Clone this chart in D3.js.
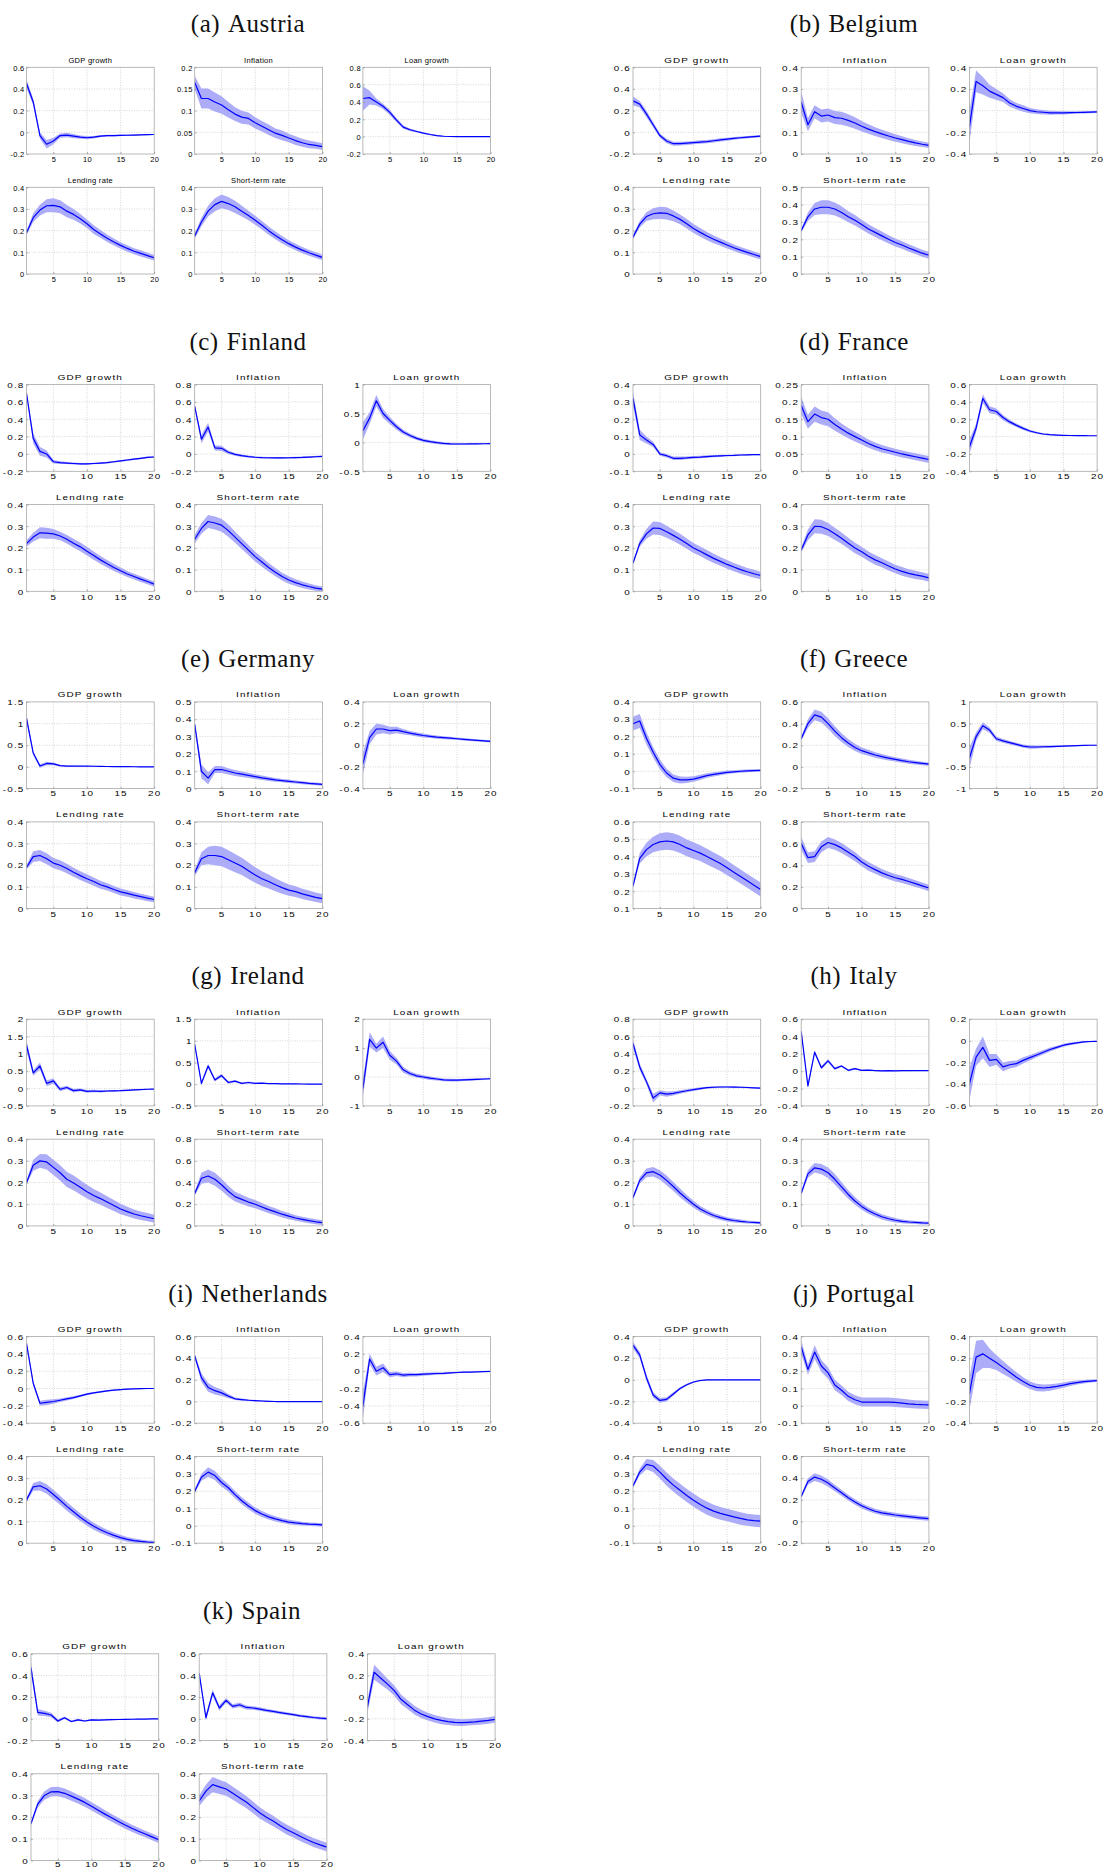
<!DOCTYPE html>
<html><head><meta charset="utf-8">
<script src="https://cdn.jsdelivr.net/npm/d3@7"></script>
<style>body{margin:0;background:#fff}svg{display:block}</style>
</head><body>
<script>
// ---------- DATA ----------
const horizons = [1,2,3,4,5,6,7,8,9,10,11,12,13,14,15,16,17,18,19,20];
const variables = ["GDP growth","Inflation","Loan growth","Lending rate","Short-term rate"];
const countryLabels = ["(a)","(b)","(c)","(d)","(e)","(f)","(g)","(h)","(i)","(j)","(k)"];
const countryNames = ["Austria","Belgium","Finland","France","Germany","Greece","Ireland","Italy","Netherlands","Portugal","Spain"];
const xTicks = [5,10,15,20];

// Austria
const austriaMean = [
 [0.45,0.28,-0.03,-0.11,-0.08,-0.03,-0.025,-0.035,-0.045,-0.05,-0.045,-0.035,-0.03,-0.03,-0.028,-0.027,-0.025,-0.023,-0.021,-0.02],
 [0.165,0.128,0.128,0.12,0.113,0.102,0.092,0.085,0.082,0.072,0.064,0.056,0.048,0.043,0.037,0.031,0.026,0.022,0.02,0.017],
 [0.44,0.45,0.4,0.35,0.28,0.19,0.11,0.08,0.06,0.04,0.025,0.012,0.005,0.002,0.001,0,0,0,0,0],
 [0.19,0.26,0.295,0.315,0.317,0.31,0.29,0.275,0.255,0.232,0.205,0.185,0.165,0.148,0.132,0.118,0.105,0.095,0.085,0.075],
 [0.175,0.24,0.29,0.32,0.335,0.325,0.31,0.29,0.27,0.248,0.225,0.2,0.178,0.158,0.14,0.124,0.11,0.098,0.087,0.077]];
const austriaBand = [
 [0.04,0.03,0.03,0.04,0.03,0.02,0.02,0.02,0.015,0.015,0.012,0.01,0.008,0.008,0.007,0.006,0.006,0.005,0.005,0.005],
 [0.015,0.023,0.023,0.022,0.02,0.018,0.016,0.015,0.014,0.013,0.012,0.012,0.011,0.011,0.01,0.01,0.009,0.009,0.008,0.008],
 [0.14,0.08,0.04,0.03,0.03,0.025,0.02,0.015,0.012,0.01,0.008,0.007,0.006,0.005,0.004,0.004,0.003,0.003,0.003,0.003],
 [0.01,0.02,0.025,0.03,0.032,0.03,0.028,0.025,0.022,0.02,0.02,0.018,0.017,0.016,0.015,0.015,0.014,0.014,0.013,0.013],
 [0.012,0.02,0.025,0.03,0.032,0.03,0.028,0.025,0.022,0.021,0.02,0.019,0.018,0.017,0.016,0.015,0.014,0.014,0.013,0.013]];
const austriaTicks = [[-0.2,0,0.2,0.4,0.6],[0,0.05,0.1,0.15,0.2],[-0.2,0,0.2,0.4,0.6,0.8],[0,0.1,0.2,0.3,0.4],[0,0.1,0.2,0.3,0.4]];

// Belgium
const belgiumMean = [
 [0.29,0.26,0.17,0.07,-0.03,-0.08,-0.105,-0.105,-0.1,-0.095,-0.09,-0.085,-0.078,-0.07,-0.063,-0.055,-0.05,-0.045,-0.04,-0.035],
 [0.24,0.135,0.195,0.175,0.18,0.168,0.165,0.155,0.143,0.128,0.115,0.103,0.093,0.083,0.074,0.066,0.058,0.051,0.045,0.04],
 [-0.15,0.27,0.23,0.18,0.15,0.12,0.07,0.04,0.02,0,-0.01,-0.015,-0.02,-0.02,-0.02,-0.018,-0.017,-0.016,-0.014,-0.012],
 [0.17,0.23,0.265,0.278,0.282,0.28,0.268,0.252,0.232,0.21,0.192,0.175,0.16,0.147,0.134,0.121,0.11,0.1,0.09,0.08],
 [0.25,0.33,0.375,0.385,0.385,0.375,0.355,0.33,0.31,0.285,0.26,0.24,0.22,0.2,0.182,0.167,0.15,0.135,0.12,0.108]];
const belgiumBand = [
 [0.04,0.03,0.03,0.025,0.02,0.02,0.018,0.017,0.016,0.016,0.016,0.015,0.015,0.015,0.014,0.013,0.012,0.011,0.01,0.01],
 [0.05,0.03,0.03,0.03,0.03,0.03,0.03,0.028,0.026,0.024,0.022,0.02,0.019,0.018,0.017,0.016,0.015,0.014,0.013,0.012],
 [0.15,0.1,0.08,0.06,0.05,0.04,0.035,0.03,0.03,0.025,0.022,0.02,0.018,0.016,0.015,0.013,0.012,0.011,0.01,0.01],
 [0.01,0.015,0.02,0.025,0.028,0.028,0.025,0.023,0.022,0.021,0.02,0.019,0.018,0.017,0.016,0.015,0.015,0.014,0.014,0.013],
 [0.01,0.025,0.035,0.04,0.04,0.038,0.035,0.032,0.03,0.028,0.027,0.026,0.025,0.024,0.023,0.022,0.021,0.02,0.02,0.02]];
const belgiumTicks = [[-0.2,0,0.2,0.4,0.6],[0,0.1,0.2,0.3,0.4],[-0.4,-0.2,0,0.2,0.4],[0,0.1,0.2,0.3,0.4],[0,0.1,0.2,0.3,0.4,0.5]];

// Finland
const finlandMean = [
 [0.7,0.18,0.03,0,-0.09,-0.1,-0.105,-0.11,-0.115,-0.115,-0.11,-0.105,-0.1,-0.09,-0.08,-0.07,-0.06,-0.05,-0.04,-0.035],
 [0.55,0.17,0.31,0.07,0.065,0.02,-0.005,-0.02,-0.03,-0.038,-0.042,-0.044,-0.045,-0.045,-0.044,-0.042,-0.04,-0.036,-0.032,-0.028],
 [0.2,0.42,0.72,0.5,0.38,0.27,0.18,0.12,0.07,0.035,0.012,-0.005,-0.018,-0.025,-0.028,-0.028,-0.027,-0.025,-0.023,-0.02],
 [0.22,0.25,0.27,0.268,0.265,0.255,0.24,0.222,0.205,0.185,0.165,0.145,0.127,0.11,0.095,0.08,0.068,0.056,0.045,0.033],
 [0.24,0.29,0.322,0.315,0.305,0.28,0.25,0.22,0.19,0.16,0.135,0.11,0.088,0.068,0.052,0.04,0.03,0.022,0.015,0.01]];
const finlandBand = [
 [0.02,0.06,0.05,0.04,0.02,0.015,0.012,0.012,0.01,0.01,0.01,0.01,0.01,0.01,0.01,0.01,0.01,0.01,0.01,0.01],
 [0.02,0.05,0.05,0.03,0.03,0.02,0.015,0.015,0.012,0.012,0.01,0.01,0.01,0.01,0.01,0.01,0.01,0.01,0.01,0.01],
 [0.15,0.1,0.1,0.08,0.06,0.05,0.04,0.035,0.03,0.028,0.026,0.024,0.022,0.02,0.018,0.016,0.014,0.012,0.01,0.01],
 [0.015,0.02,0.025,0.025,0.022,0.02,0.02,0.02,0.02,0.02,0.019,0.018,0.017,0.016,0.015,0.014,0.013,0.013,0.012,0.012],
 [0.02,0.025,0.03,0.03,0.03,0.028,0.026,0.025,0.024,0.023,0.022,0.02,0.019,0.018,0.017,0.016,0.015,0.014,0.013,0.012]];
const finlandTicks = [[-0.2,0,0.2,0.4,0.6,0.8],[-0.2,0,0.2,0.4,0.6,0.8],[-0.5,0,0.5,1],[0,0.1,0.2,0.3,0.4],[0,0.1,0.2,0.3,0.4]];

// France
const franceMean = [
 [0.32,0.11,0.08,0.055,0,-0.01,-0.025,-0.025,-0.023,-0.02,-0.018,-0.015,-0.013,-0.011,-0.009,-0.008,-0.006,-0.005,-0.004,-0.004],
 [0.19,0.143,0.165,0.155,0.15,0.135,0.122,0.11,0.1,0.09,0.08,0.072,0.065,0.06,0.055,0.05,0.046,0.042,0.038,0.034],
 [-0.12,0.1,0.44,0.31,0.29,0.22,0.17,0.13,0.095,0.065,0.045,0.03,0.022,0.018,0.015,0.013,0.012,0.011,0.01,0.01],
 [0.13,0.22,0.265,0.292,0.29,0.275,0.258,0.24,0.22,0.2,0.185,0.168,0.152,0.138,0.124,0.112,0.1,0.09,0.081,0.073],
 [0.19,0.26,0.3,0.298,0.285,0.265,0.245,0.222,0.2,0.182,0.162,0.145,0.132,0.117,0.103,0.092,0.083,0.076,0.07,0.062]];
const franceBand = [
 [0.04,0.03,0.02,0.015,0.01,0.01,0.01,0.01,0.008,0.008,0.007,0.007,0.006,0.006,0.005,0.005,0.005,0.004,0.004,0.004],
 [0.025,0.02,0.022,0.02,0.02,0.018,0.016,0.015,0.014,0.013,0.012,0.011,0.011,0.01,0.01,0.01,0.01,0.01,0.01,0.01],
 [0.08,0.05,0.05,0.04,0.035,0.03,0.025,0.02,0.018,0.015,0.012,0.01,0.008,0.006,0.005,0.004,0.004,0.003,0.003,0.003],
 [0.008,0.015,0.022,0.03,0.03,0.028,0.026,0.025,0.024,0.023,0.022,0.022,0.021,0.02,0.02,0.019,0.019,0.018,0.018,0.017],
 [0.012,0.025,0.032,0.032,0.03,0.028,0.026,0.025,0.024,0.023,0.022,0.022,0.021,0.021,0.02,0.02,0.019,0.019,0.018,0.018]];
const franceTicks = [[-0.1,0,0.1,0.2,0.3,0.4],[0,0.05,0.1,0.15,0.2,0.25],[-0.4,-0.2,0,0.2,0.4,0.6],[0,0.1,0.2,0.3,0.4],[0,0.1,0.2,0.3,0.4]];

// Germany
const germanyMean = [
 [1.12,0.32,0.02,0.08,0.07,0.03,0.02,0.02,0.02,0.02,0.015,0.012,0.01,0.008,0.006,0.005,0.004,0.003,0.002,0.002],
 [0.37,0.1,0.06,0.11,0.11,0.1,0.09,0.083,0.076,0.069,0.062,0.056,0.05,0.046,0.042,0.038,0.034,0.03,0.027,0.024],
 [-0.17,0.07,0.15,0.15,0.135,0.14,0.125,0.112,0.1,0.09,0.082,0.075,0.07,0.065,0.06,0.055,0.05,0.045,0.04,0.035],
 [0.19,0.24,0.245,0.23,0.21,0.2,0.185,0.168,0.152,0.138,0.125,0.11,0.1,0.088,0.077,0.07,0.062,0.055,0.048,0.042],
 [0.165,0.23,0.245,0.245,0.24,0.225,0.21,0.195,0.175,0.155,0.138,0.125,0.11,0.097,0.085,0.078,0.068,0.06,0.052,0.046]];
const germanyBand = [
 [0.08,0.05,0.04,0.04,0.03,0.02,0.015,0.012,0.01,0.01,0.01,0.01,0.008,0.008,0.007,0.007,0.006,0.006,0.005,0.005],
 [0.02,0.04,0.035,0.02,0.02,0.018,0.017,0.016,0.015,0.014,0.013,0.012,0.011,0.01,0.01,0.009,0.009,0.008,0.008,0.008],
 [0.1,0.06,0.05,0.04,0.035,0.03,0.025,0.02,0.02,0.018,0.016,0.015,0.014,0.013,0.012,0.011,0.01,0.01,0.01,0.01],
 [0.01,0.025,0.025,0.025,0.024,0.023,0.022,0.021,0.02,0.02,0.019,0.018,0.017,0.016,0.016,0.015,0.015,0.014,0.014,0.013],
 [0.015,0.03,0.04,0.045,0.045,0.044,0.042,0.04,0.038,0.036,0.034,0.032,0.03,0.028,0.026,0.025,0.024,0.023,0.022,0.021]];
const germanyTicks = [[-0.5,0,0.5,1,1.5],[0,0.1,0.2,0.3,0.4,0.5],[-0.4,-0.2,0,0.2,0.4],[0,0.1,0.2,0.3,0.4],[0,0.1,0.2,0.3,0.4]];

// Greece
const greeceMean = [
 [0.275,0.29,0.19,0.11,0.04,-0.01,-0.04,-0.05,-0.05,-0.045,-0.035,-0.025,-0.018,-0.012,-0.006,-0.003,0,0.002,0.004,0.005],
 [0.26,0.4,0.48,0.46,0.4,0.33,0.27,0.22,0.18,0.15,0.13,0.11,0.095,0.082,0.07,0.058,0.048,0.04,0.032,0.025],
 [-0.3,0.2,0.45,0.35,0.15,0.1,0.06,0.02,-0.02,-0.04,-0.04,-0.035,-0.03,-0.025,-0.02,-0.015,-0.01,-0.005,0,0],
 [0.23,0.39,0.44,0.47,0.485,0.49,0.485,0.47,0.45,0.435,0.42,0.4,0.38,0.36,0.335,0.31,0.285,0.26,0.235,0.21],
 [0.6,0.47,0.48,0.57,0.61,0.59,0.56,0.52,0.48,0.43,0.39,0.36,0.33,0.305,0.285,0.27,0.25,0.23,0.21,0.19]];
const greeceBand = [
 [0.04,0.04,0.035,0.03,0.028,0.025,0.022,0.02,0.018,0.016,0.015,0.013,0.012,0.011,0.01,0.009,0.008,0.008,0.007,0.007],
 [0.02,0.04,0.05,0.05,0.048,0.045,0.04,0.037,0.033,0.03,0.028,0.026,0.024,0.022,0.02,0.019,0.018,0.017,0.016,0.015],
 [0.25,0.1,0.08,0.06,0.05,0.045,0.04,0.04,0.04,0.04,0.035,0.03,0.025,0.02,0.018,0.015,0.012,0.01,0.01,0.01],
 [0.01,0.03,0.04,0.045,0.05,0.05,0.05,0.05,0.048,0.047,0.045,0.045,0.044,0.043,0.042,0.041,0.04,0.04,0.04,0.04],
 [0.06,0.05,0.05,0.05,0.05,0.048,0.046,0.044,0.042,0.04,0.04,0.038,0.036,0.035,0.034,0.033,0.032,0.031,0.03,0.03]];
const greeceTicks = [[-0.1,0,0.1,0.2,0.3,0.4],[-0.2,0,0.2,0.4,0.6],[-1,-0.5,0,0.5,1],[0.1,0.2,0.3,0.4,0.5,0.6],[0,0.2,0.4,0.6,0.8]];

// Ireland
const irelandMean = [
 [1.25,0.45,0.65,0.15,0.22,-0.02,0.03,-0.06,-0.04,-0.08,-0.07,-0.08,-0.07,-0.065,-0.06,-0.05,-0.04,-0.03,-0.02,-0.015],
 [0.92,0.02,0.42,0.1,0.2,0.04,0.07,0.02,0.04,0.02,0.025,0.015,0.015,0.01,0.008,0.006,0.005,0.004,0.003,0.002],
 [-0.4,1.3,1,1.2,0.75,0.55,0.25,0.12,0.04,0,-0.04,-0.07,-0.1,-0.11,-0.11,-0.1,-0.09,-0.08,-0.07,-0.06],
 [0.2,0.28,0.3,0.295,0.27,0.245,0.215,0.198,0.178,0.158,0.14,0.126,0.11,0.094,0.078,0.066,0.055,0.047,0.04,0.033],
 [0.3,0.44,0.46,0.43,0.38,0.32,0.27,0.245,0.22,0.2,0.175,0.15,0.13,0.108,0.09,0.073,0.06,0.048,0.038,0.03]];
const irelandBand = [
 [0.15,0.08,0.1,0.08,0.08,0.06,0.05,0.05,0.04,0.04,0.035,0.03,0.03,0.025,0.02,0.02,0.02,0.015,0.015,0.015],
 [0.03,0.05,0.05,0.04,0.04,0.03,0.025,0.02,0.02,0.015,0.012,0.01,0.01,0.008,0.008,0.007,0.006,0.006,0.005,0.005],
 [0.3,0.25,0.15,0.2,0.15,0.12,0.1,0.08,0.07,0.06,0.06,0.055,0.05,0.05,0.045,0.04,0.04,0.035,0.03,0.03],
 [0.01,0.025,0.032,0.035,0.035,0.035,0.035,0.034,0.033,0.032,0.03,0.028,0.027,0.025,0.024,0.022,0.021,0.02,0.019,0.018],
 [0.02,0.05,0.06,0.06,0.055,0.05,0.045,0.042,0.04,0.038,0.036,0.034,0.032,0.03,0.028,0.026,0.025,0.024,0.023,0.022]];
const irelandTicks = [[-0.5,0,0.5,1,1.5,2],[-0.5,0,0.5,1,1.5],[-1,0,1,2],[0,0.1,0.2,0.3,0.4],[0,0.2,0.4,0.6,0.8]];

// Italy
const italyMean = [
 [0.52,0.25,0.08,-0.11,-0.05,-0.065,-0.055,-0.04,-0.025,-0.012,0,0.01,0.015,0.018,0.018,0.017,0.015,0.012,0.008,0.005],
 [0.46,-0.17,0.22,0.04,0.12,0.03,0.06,0.01,0.03,0.01,0.012,0.008,0.004,0.006,0.005,0.006,0.006,0.006,0.006,0.006],
 [-0.4,-0.15,-0.06,-0.18,-0.17,-0.24,-0.22,-0.21,-0.18,-0.155,-0.13,-0.105,-0.08,-0.06,-0.04,-0.028,-0.018,-0.01,-0.006,-0.004],
 [0.13,0.21,0.245,0.25,0.235,0.21,0.182,0.152,0.125,0.1,0.078,0.062,0.048,0.038,0.03,0.025,0.021,0.018,0.016,0.014],
 [0.15,0.24,0.268,0.262,0.245,0.215,0.18,0.145,0.115,0.09,0.07,0.055,0.042,0.033,0.026,0.021,0.018,0.016,0.014,0.013]];
const italyBand = [
 [0.05,0.04,0.03,0.05,0.03,0.03,0.025,0.02,0.018,0.016,0.014,0.012,0.011,0.01,0.01,0.009,0.008,0.008,0.007,0.007],
 [0.02,0.03,0.02,0.02,0.02,0.015,0.012,0.01,0.01,0.008,0.007,0.006,0.006,0.005,0.005,0.005,0.005,0.004,0.004,0.004],
 [0.15,0.08,0.1,0.06,0.05,0.04,0.035,0.03,0.028,0.025,0.022,0.02,0.018,0.016,0.014,0.012,0.01,0.008,0.006,0.005],
 [0.008,0.015,0.02,0.022,0.022,0.022,0.021,0.02,0.018,0.016,0.014,0.013,0.012,0.011,0.01,0.009,0.008,0.007,0.006,0.006],
 [0.01,0.018,0.022,0.024,0.024,0.024,0.022,0.02,0.018,0.016,0.014,0.013,0.012,0.011,0.01,0.009,0.008,0.007,0.007,0.006]];
const italyTicks = [[-0.2,0,0.2,0.4,0.6,0.8],[-0.4,-0.2,0,0.2,0.4,0.6],[-0.6,-0.4,-0.2,0,0.2],[0,0.1,0.2,0.3,0.4],[0,0.1,0.2,0.3,0.4]];

// Netherlands
const netherlandsMean = [
 [0.52,0.06,-0.17,-0.16,-0.15,-0.135,-0.12,-0.105,-0.085,-0.065,-0.05,-0.038,-0.027,-0.018,-0.012,-0.007,-0.004,-0.002,0,0],
 [0.42,0.22,0.13,0.1,0.08,0.05,0.025,0.018,0.012,0.008,0.005,0.002,0,0,0,0,0,0,0,0],
 [-0.4,0.14,0,0.04,-0.04,-0.03,-0.045,-0.04,-0.04,-0.035,-0.03,-0.027,-0.025,-0.02,-0.015,-0.012,-0.01,-0.007,-0.005,-0.003],
 [0.2,0.26,0.265,0.25,0.225,0.198,0.17,0.145,0.12,0.098,0.078,0.062,0.048,0.036,0.026,0.018,0.012,0.008,0.005,0.003],
 [0.2,0.28,0.31,0.29,0.25,0.22,0.18,0.145,0.115,0.088,0.068,0.052,0.04,0.03,0.022,0.017,0.013,0.01,0.008,0.006]];
const netherlandsBand = [
 [0.02,0.03,0.03,0.03,0.025,0.02,0.018,0.016,0.014,0.012,0.011,0.01,0.009,0.008,0.007,0.006,0.005,0.005,0.004,0.004],
 [0.02,0.04,0.04,0.035,0.03,0.02,0.012,0.01,0.008,0.007,0.006,0.005,0.004,0.004,0.003,0.003,0.003,0.003,0.003,0.003],
 [0.15,0.06,0.05,0.05,0.03,0.025,0.025,0.022,0.02,0.018,0.016,0.014,0.012,0.01,0.009,0.008,0.007,0.006,0.005,0.005],
 [0.01,0.018,0.022,0.022,0.022,0.021,0.02,0.019,0.018,0.017,0.016,0.015,0.014,0.013,0.012,0.011,0.01,0.009,0.008,0.008],
 [0.012,0.02,0.028,0.026,0.024,0.022,0.021,0.02,0.019,0.018,0.017,0.016,0.015,0.014,0.013,0.012,0.011,0.01,0.01,0.009]];
const netherlandsTicks = [[-0.4,-0.2,0,0.2,0.4,0.6],[-0.2,0,0.2,0.4,0.6],[-0.6,-0.4,-0.2,0,0.2,0.4],[0,0.1,0.2,0.3,0.4],[-0.1,0,0.1,0.2,0.3,0.4]];

// Portugal
const portugalMean = [
 [0.32,0.23,0.02,-0.14,-0.19,-0.18,-0.13,-0.08,-0.045,-0.02,-0.006,-0.001,0,0,0,0,0,0,0,0],
 [0.34,0.21,0.31,0.23,0.19,0.12,0.09,0.055,0.035,0.022,0.022,0.022,0.022,0.022,0.02,0.016,0.012,0.009,0.007,0.006],
 [-0.13,0.21,0.24,0.2,0.16,0.115,0.07,0.025,-0.015,-0.05,-0.07,-0.075,-0.07,-0.06,-0.048,-0.035,-0.025,-0.017,-0.011,-0.007],
 [0.23,0.31,0.355,0.345,0.31,0.27,0.235,0.205,0.175,0.148,0.123,0.102,0.085,0.072,0.062,0.052,0.043,0.035,0.03,0.027],
 [0.23,0.37,0.41,0.39,0.355,0.31,0.265,0.22,0.18,0.145,0.118,0.095,0.08,0.07,0.06,0.052,0.045,0.038,0.032,0.027]];
const portugalBand = [
 [0.03,0.03,0.03,0.025,0.022,0.02,0.016,0.012,0.01,0.008,0.006,0.005,0.004,0.003,0.003,0.003,0.003,0.003,0.003,0.003],
 [0.04,0.03,0.04,0.035,0.033,0.03,0.028,0.027,0.026,0.026,0.026,0.026,0.026,0.026,0.026,0.025,0.025,0.024,0.024,0.024],
 [0.15,0.15,0.13,0.09,0.07,0.06,0.05,0.045,0.04,0.035,0.035,0.033,0.03,0.027,0.024,0.021,0.018,0.016,0.014,0.012],
 [0.01,0.02,0.03,0.035,0.037,0.038,0.038,0.038,0.038,0.038,0.038,0.038,0.037,0.037,0.036,0.036,0.036,0.035,0.035,0.035],
 [0.015,0.03,0.035,0.035,0.033,0.03,0.028,0.026,0.025,0.024,0.023,0.022,0.022,0.021,0.021,0.02,0.02,0.02,0.02,0.02]];
const portugalTicks = [[-0.4,-0.2,0,0.2,0.4],[-0.1,0,0.1,0.2,0.3,0.4],[-0.4,-0.2,0,0.2,0.4],[-0.1,0,0.1,0.2,0.3,0.4],[-0.2,0,0.2,0.4,0.6]];

// Spain
const spainMean = [
 [0.47,0.06,0.05,0.035,-0.02,0.01,-0.025,-0.01,-0.02,-0.01,-0.012,-0.01,-0.008,-0.006,-0.005,-0.004,-0.003,-0.002,-0.001,0],
 [0.42,0.01,0.24,0.1,0.17,0.115,0.13,0.105,0.1,0.09,0.078,0.068,0.058,0.048,0.038,0.028,0.02,0.012,0.006,0.002],
 [-0.09,0.23,0.175,0.12,0.06,-0.02,-0.07,-0.12,-0.155,-0.18,-0.2,-0.215,-0.225,-0.232,-0.235,-0.232,-0.228,-0.222,-0.215,-0.205],
 [0.17,0.26,0.3,0.317,0.318,0.31,0.297,0.283,0.268,0.25,0.232,0.214,0.197,0.18,0.164,0.149,0.135,0.122,0.109,0.096],
 [0.275,0.32,0.35,0.34,0.33,0.31,0.29,0.27,0.245,0.22,0.2,0.182,0.162,0.143,0.128,0.112,0.097,0.083,0.072,0.062]];
const spainBand = [
 [0.05,0.03,0.025,0.02,0.015,0.012,0.01,0.01,0.008,0.008,0.007,0.006,0.005,0.005,0.004,0.004,0.004,0.003,0.003,0.003],
 [0.02,0.03,0.03,0.025,0.022,0.02,0.02,0.018,0.017,0.016,0.015,0.014,0.014,0.013,0.013,0.012,0.012,0.012,0.012,0.012],
 [0.06,0.07,0.06,0.05,0.048,0.045,0.042,0.04,0.038,0.036,0.035,0.034,0.033,0.032,0.031,0.03,0.03,0.03,0.03,0.03],
 [0.008,0.015,0.02,0.022,0.022,0.022,0.021,0.02,0.02,0.019,0.019,0.018,0.018,0.017,0.017,0.016,0.016,0.015,0.015,0.015],
 [0.025,0.03,0.035,0.033,0.031,0.03,0.029,0.028,0.027,0.026,0.025,0.024,0.023,0.023,0.022,0.022,0.021,0.021,0.02,0.02]];
const spainTicks = [[-0.2,0,0.2,0.4,0.6],[-0.2,0,0.2,0.4,0.6],[-0.4,-0.2,0,0.2,0.4],[0,0.1,0.2,0.3,0.4],[0,0.1,0.2,0.3,0.4]];

const allMeans = [austriaMean,belgiumMean,finlandMean,franceMean,germanyMean,greeceMean,irelandMean,italyMean,netherlandsMean,portugalMean,spainMean];
const allBands = [austriaBand,belgiumBand,finlandBand,franceBand,germanyBand,greeceBand,irelandBand,italyBand,netherlandsBand,portugalBand,spainBand];
const allTicks = [austriaTicks,belgiumTicks,finlandTicks,franceTicks,germanyTicks,greeceTicks,irelandTicks,italyTicks,netherlandsTicks,portugalTicks,spainTicks];

// ---------- DRAW ----------
const W = 1104, H = 1868;
const svg = d3.select("body").append("svg").attr("width", W).attr("height", H);
const fmt = d => String(+d.toFixed(2));
const PW = 127.7, PH = 86.7;
let clipId = 0;

countryNames.forEach((name, i) => {
  const col = i % 2, row = Math.floor(i / 2);
  const top = 67.3 + row * 317.3;
  let left0 = col === 0 ? 26.5 : 633;
  let titleX = col === 0 ? 248 : 854;
  if (i === 10) { left0 = 31; titleX = 252; }
  const small = (i === 0);
  const sx = small ? 1.0 : 1.3;
  const fs = small ? 7.5 : 7.6;
  const ls = small ? 0.3 : 0.9;

  const title = svg.append("text")
    .attr("x", titleX).attr("y", top - 35)
    .attr("text-anchor", "middle")
    .attr("font-family", "Liberation Serif, Times New Roman, serif")
    .attr("font-size", 25).attr("letter-spacing", 0.5).attr("fill", "#111");
  title.append("tspan").text(countryLabels[i]);
  title.append("tspan").attr("dx", 8).text(name);

  variables.forEach((vname, v) => {
    const r = v < 3 ? 0 : 1, c = v % 3;
    const x0 = left0 + c * 168.2, y0 = top + r * 120;
    const ticks = allTicks[i][v];
    const x = d3.scaleLinear().domain([1, 20]).range([0, PW]);
    const y = d3.scaleLinear().domain([ticks[0], ticks[ticks.length - 1]]).range([PH, 0]);
    const g = svg.append("g").attr("transform", `translate(${x0},${y0})`);
    const mean = allMeans[i][v], band = allBands[i][v];
    const pts = horizons.map((h, k) => ({ h, m: mean[k], lo: mean[k] - band[k], hi: mean[k] + band[k] }));

    // grid
    g.append("g").selectAll("line").data(ticks.slice(1, -1)).join("line")
      .attr("x1", 0).attr("x2", PW).attr("y1", d => y(d)).attr("y2", d => y(d))
      .attr("stroke", "#c4c4c4").attr("stroke-width", 0.7).attr("stroke-dasharray", "1,1.5");
    g.append("g").selectAll("line").data(xTicks.slice(0, -1)).join("line")
      .attr("y1", 0).attr("y2", PH).attr("x1", d => x(d)).attr("x2", d => x(d))
      .attr("stroke", "#c4c4c4").attr("stroke-width", 0.7).attr("stroke-dasharray", "1,1.5");

    const cid = "clip" + (clipId++);
    g.append("clipPath").attr("id", cid).append("rect").attr("width", PW).attr("height", PH);
    const pg = g.append("g").attr("clip-path", `url(#${cid})`);
    pg.append("path").datum(pts)
      .attr("d", d3.area().x(d => x(d.h)).y0(d => y(d.lo)).y1(d => y(d.hi)))
      .attr("fill", "#acacf8");
    pg.append("path").datum(pts)
      .attr("d", d3.line().x(d => x(d.h)).y(d => y(d.m)))
      .attr("fill", "none").attr("stroke", "#0000ff").attr("stroke-width", 1.2).attr("stroke-linejoin", "round");

    // box
    g.append("rect").attr("width", PW).attr("height", PH)
      .attr("fill", "none").attr("stroke", "#a8a8a8").attr("stroke-width", 0.8);

    // axes
    const ya = g.append("g").call(d3.axisLeft(y).tickValues(ticks).tickSize(0).tickFormat(fmt));
    ya.select(".domain").remove();
    ya.attr("font-family", "Liberation Sans, Arial, sans-serif").attr("font-size", fs);
    ya.selectAll("text").attr("x", null).attr("dy", "0.36em")
      .attr("letter-spacing", ls).attr("fill", "#000")
      .attr("transform", `translate(-2,0) scale(${sx},1)`);
    ya.selectAll(".tick").append("line").attr("x1", 0).attr("x2", 2).attr("stroke", "#888").attr("stroke-width", 0.6);

    const xoff = (i === 10 && r === 1) ? 6.2 : (r === 0 ? 7.8 : 8.2);
    const xa = g.append("g").attr("transform", `translate(0,${PH})`)
      .call(d3.axisBottom(x).tickValues(xTicks).tickSize(0).tickFormat(d3.format("d")));
    xa.select(".domain").remove();
    xa.attr("font-family", "Liberation Sans, Arial, sans-serif").attr("font-size", fs);
    xa.selectAll("text").attr("y", null).attr("dy", null)
      .attr("letter-spacing", ls).attr("fill", "#000")
      .attr("transform", `translate(0,${xoff}) scale(${sx},1)`);
    xa.selectAll(".tick").append("line").attr("y1", 0).attr("y2", -2).attr("stroke", "#888").attr("stroke-width", 0.6);

    // subplot title
    g.append("text").attr("transform", `translate(${PW / 2},-4.5) scale(${sx},1)`)
      .attr("text-anchor", "middle")
      .attr("font-family", "Liberation Sans, Arial, sans-serif")
      .attr("font-size", fs).attr("letter-spacing", ls).attr("fill", "#000")
      .text(vname);
  });
});
</script>
</body></html>
